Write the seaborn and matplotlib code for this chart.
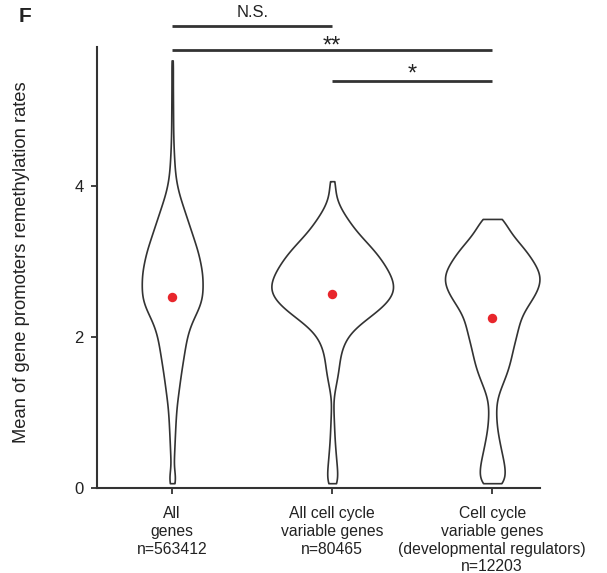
import numpy as np
import pandas as pd
import matplotlib
matplotlib.use("Agg")
import matplotlib.pyplot as plt
import seaborn as sns

# ---------------- data ----------------
categories = [
    "All\ngenes\nn=563412",
    "All cell cycle\nvariable genes\nn=80465",
    "Cell cycle\nvariable genes\n(developmental regulators)\nn=12203",
]
means = [2.53, 2.58, 2.26]

# density profiles (relative weights) on levels starting at 0.07, step 0.1
start_level = 0.07
step_level = 0.1
weights_all = [3.5, 3.5, 1.2, 1.6, 2.0, 2.3, 2.6, 3.0, 3.3, 3.8,
               4.3, 5.2, 6.2, 7.2, 8.2, 9.3, 10.5, 11.7, 12.9, 14.2,
               16.0, 18.5, 22.0, 26.0, 29.0, 30.5, 30.5, 30.5, 30.0, 28.5,
               27.0, 25.0, 22.5, 20.0, 17.5, 15.0, 12.5, 10.0, 7.5, 5.5,
               4.0, 3.0, 2.4, 2.0, 1.6, 1.3, 1.1, 1.0, 0.9, 0.9,
               0.8, 0.8, 0.7, 0.7, 0.7, 0.7, 0.8]
weights_ccv = [5.5, 5.2, 4.8, 4.0, 3.4, 2.8, 2.3, 2.0, 1.7, 1.4,
               1.1, 1.0, 2.0, 3.5, 5.0, 6.2, 7.0, 8.0, 10.0, 13.0,
               18.0, 26.0, 36.0, 46.0, 54.0, 59.5, 61.0, 59.0, 55.5, 51.0,
               46.0, 40.0, 33.0, 26.0, 20.0, 15.0, 10.0, 6.0, 3.5, 2.7,
               3.0]
weights_dev = [13.0, 12.5, 12.5, 11.0, 9.3, 7.8, 6.3, 5.0, 4.2, 3.7,
               3.7, 4.3, 6.5, 9.5, 12.5, 15.3, 17.3, 19.0, 20.5, 22.5,
               24.3, 26.0, 28.0, 32.0, 37.0, 42.0, 45.5, 47.5, 46.0, 42.0,
               37.0, 32.0, 25.0, 19.0, 14.0, 12.0]
profiles = [weights_all, weights_ccv, weights_dev]

sig_pairs = [(0, 1), (0, 2), (1, 2)]
sig_labels = ["N.S.", "**", "*"]
sig_heights = [6.12, 5.81, 5.40]

yticks = [0, 2, 4]

# ---------------- styling ----------------
dark = "#333333"
violin_widths = [0.38, 0.76, 0.59]

sns.set_style("white")
plt.rcParams["font.family"] = ["Liberation Sans", "DejaVu Sans"]

fig = plt.figure(figsize=(6.07, 5.73), dpi=100)
ax = fig.add_axes([0.160, 0.1475, 0.730, 0.8176])

for cat, prof, w in zip(categories, profiles, violin_widths):
    levels = start_level + step_level * np.arange(len(prof))
    counts = np.round(np.array(prof) * 10).astype(int)
    vals = np.repeat(levels, counts)
    df = pd.DataFrame({"group": [cat] * len(vals), "rate": vals})
    bw = 0.1 / vals.std()
    sns.violinplot(data=df, x="group", y="rate", order=categories,
                   width=w, density_norm="width", cut=0, inner=None,
                   bw_method=bw, gridsize=400, fill=True, color="white",
                   linecolor=dark, linewidth=1.2, ax=ax)

sns.stripplot(x=categories, y=means, order=categories, jitter=False,
              color="#e8262c", size=6.8, linewidth=0, zorder=5, ax=ax)

ax.set_xlim(-0.469, 2.3)
ax.set_ylim(0, 6.205)
ax.set_yticks(yticks)
ax.set_yticklabels([str(t) for t in yticks])
ax.set_xlabel("")
ax.set_ylabel("")

sns.despine(ax=ax)
ax.spines["left"].set_bounds(0, 5.85)
for s in ["left", "bottom"]:
    ax.spines[s].set_color(dark)
    ax.spines[s].set_linewidth(1.5)

ax.tick_params(axis="y", direction="out", length=4.5, width=1.3, color=dark,
               labelsize=12, labelcolor="#222222", pad=5, left=True)
ax.tick_params(axis="x", direction="out", length=4, width=1.3, color=dark,
               labelsize=11.3, labelcolor="#222222", pad=8.5, bottom=True)
for lab in ax.get_xticklabels():
    lab.set_linespacing(1.24)

# significance bars
sig_font = [12, 17, 17]
sig_base = [6.245, 5.78, 5.40]
for (a, b), lab, h, fs, yb in zip(sig_pairs, sig_labels, sig_heights, sig_font, sig_base):
    ax.plot([a, b], [h, h], color=dark, lw=2.0, solid_capstyle="butt",
            clip_on=False)
    ax.text((a + b) / 2, yb, lab, ha="center", va="baseline", fontsize=fs,
            color="#222222", clip_on=False)

fig.text(22 / 607, 1 - 262.5 / 573, "Mean of gene promoters remethylation rates",
         rotation=90, ha="center", va="center", fontsize=13.2, color="#222222")
fig.text(25 / 607, 1 - 17 / 573, "F", ha="center", va="center",
         fontsize=15, fontweight="bold", color="#222222")

fig.savefig("out.png", dpi=100)
